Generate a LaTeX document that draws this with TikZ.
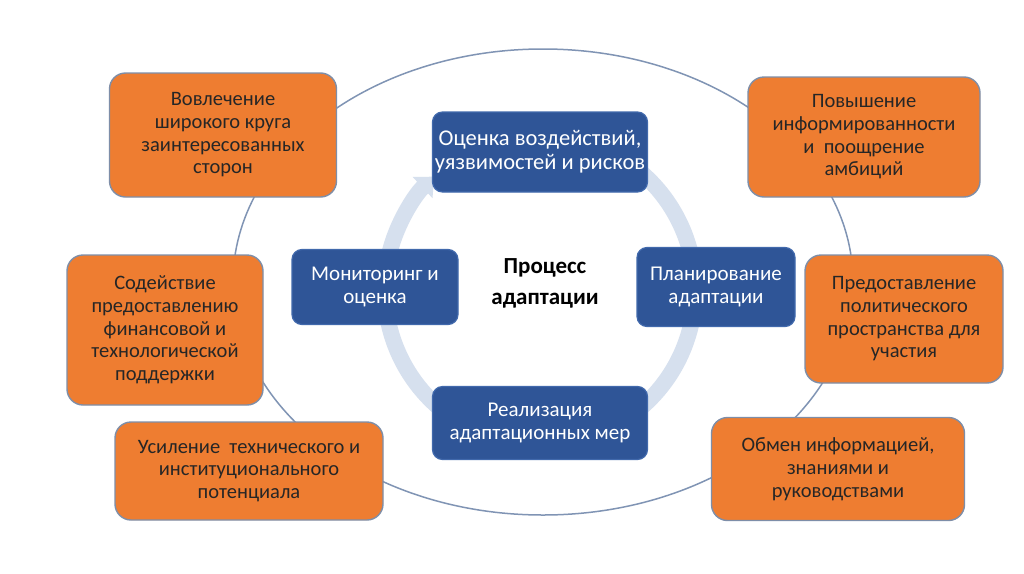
\documentclass[tikz,border=0pt]{standalone}
\usepackage{fontspec}
\setmainfont{Carlito}
\usetikzlibrary{arrows.meta}
\definecolor{orfill}{HTML}{EE7D31}
\definecolor{orline}{HTML}{7E8EA8}
\definecolor{blfill}{HTML}{2F5597}
\definecolor{blline}{HTML}{4169AC}
\definecolor{ringc}{HTML}{D6E0EE}
\definecolor{ellc}{HTML}{8094B4}
\definecolor{txtc}{HTML}{262626}
\tikzset{
  obox/.style={draw=orline, line width=1.4pt, fill=orfill, rounded corners=16pt,
    align=center, text=txtc, font=\fontsize{20.5}{22.7}\selectfont, inner sep=0pt},
  bbox/.style={draw=blline, line width=1.2pt, fill=blfill, rounded corners=10pt,
    align=center, text=white, font=\fontsize{21}{22.5}\selectfont, inner sep=0pt},
  ctext/.style={align=center, text=black, font=\fontsize{23}{31}\selectfont\bfseries}
}
\begin{document}
\begin{tikzpicture}[x=1pt,y=-1pt]
\useasboundingbox (0,0) rectangle (1024,573);
\fill[white] (0,0) rectangle (1024,573);
% outer ellipse
\draw[ellc, line width=1.5pt] (543,282) ellipse [x radius=310, y radius=233];
% inner cycle ring with arrow
\coordinate (rc) at (540,290);
\draw[ringc, line width=16pt, -{Triangle[width=28pt,length=16pt]}]
  (rc) ++(-70:155) arc[start angle=-70, end angle=227, radius=155];
% blue process boxes
\node[bbox, minimum width=215pt, minimum height=80pt,
  font=\fontsize{22.5}{24}\selectfont] (assess) at (540,152)
  {Оценка воздействий,\\уязвимостей и рисков};
\node[bbox, minimum width=166pt, minimum height=75pt] (monitor) at (375,287)
  {Мониторинг и\\оценка};
\node[bbox, minimum width=158pt, minimum height=79pt] (plan) at (716,287)
  {Планирование\\адаптации};
\node[bbox, minimum width=215pt, minimum height=73pt] (impl) at (540,423)
  {Реализация\\адаптационных мер};
\node[ctext] (proc) at (545,283) {Процесс\\адаптации};
% orange boxes
\node[obox, minimum width=227pt, minimum height=124pt] (tl) at (223,135)
  {Вовлечение\\широкого круга\\заинтересованных\\сторон};
\node[obox, minimum width=232pt, minimum height=120pt] (tr) at (864,137)
  {Повышение\\информированности\\и~~поощрение\\амбиций};
\node[obox, minimum width=196pt, minimum height=150pt] (ml) at (165,330)
  {Содействие\\предоставлению\\финансовой и\\технологической\\поддержки};
\node[obox, minimum width=198pt, minimum height=128pt] (mr) at (904,319)
  {Предоставление\\политического\\пространства для\\участия};
\node[obox, minimum width=268pt, minimum height=98pt] (bl) at (249,471)
  {Усиление~~технического и\\институционального\\потенциала};
\node[obox, minimum width=253pt, minimum height=103pt] (br) at (838,469)
  {Обмен информацией,\\знаниями и\\руководствами};
\end{tikzpicture}
\end{document}
